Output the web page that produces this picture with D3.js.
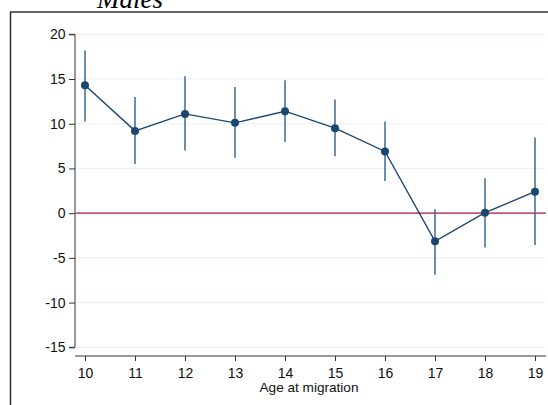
<!DOCTYPE html>
<html>
<head>
<meta charset="utf-8">
<script src="https://cdn.jsdelivr.net/npm/d3@7"></script>
<style>
  html, body { margin: 0; padding: 0; background: #fff; }
  svg { display: block; }
</style>
</head>
<body>
<div id="chart"></div>
<script>
// Estimated effect by age at migration, with 95% confidence intervals
const ages     = [10, 11, 12, 13, 14, 15, 16, 17, 18, 19];
const estimate = [14.3, 9.2, 11.1, 10.1, 11.4, 9.5, 6.9, -3.15, 0.05, 2.4];
const ciLow    = [10.25, 5.5, 7.0, 6.2, 7.95, 6.35, 3.6, -6.9, -3.85, -3.55];
const ciHigh   = [18.2, 13.0, 15.3, 14.1, 14.85, 12.7, 10.25, 0.45, 3.9, 8.45];
const yTicks   = [20, 15, 10, 5, 0, -5, -10, -15];
const xTicks   = [10, 11, 12, 13, 14, 15, 16, 17, 18, 19];

const W = 548, H = 405;
const svg = d3.select("#chart").append("svg")
  .attr("width", W).attr("height", H);

const x = d3.scaleLinear().domain([10, 19]).range([85, 535]);
const y = d3.scaleLinear().domain([-15, 20]).range([347.3, 34.3]);

const navy = "#1a476f";
const spike = "#3e6a90";
const font = "Liberation Sans, Arial, sans-serif";

// panel frame
svg.append("rect")
  .attr("x", 10.5).attr("y", 12)
  .attr("width", W + 10).attr("height", H + 10)
  .attr("fill", "none").attr("stroke", "#333").attr("stroke-width", 1.5);

// panel title
svg.append("text")
  .attr("x", 130).attr("y", 8)
  .attr("text-anchor", "middle")
  .attr("font-family", "Liberation Serif, Times New Roman, serif")
  .attr("font-style", "italic")
  .attr("font-size", 27)
  .attr("fill", "#000")
  .text("Males");

// horizontal gridlines
svg.append("g").selectAll("line")
  .data(yTicks)
  .join("line")
  .attr("x1", 76).attr("x2", 545)
  .attr("y1", d => y(d)).attr("y2", d => y(d))
  .attr("stroke", "#eaf2f3").attr("stroke-width", 1.2);

// zero reference line
svg.append("line")
  .attr("x1", 76).attr("x2", 546)
  .attr("y1", y(0)).attr("y2", y(0))
  .attr("stroke", "#b8143f").attr("stroke-width", 1.3);

// y axis
const yAxis = d3.axisLeft(y).tickValues(yTicks).tickSize(6).tickPadding(3.5)
  .tickFormat(d => String(d));
const gy = svg.append("g").attr("transform", "translate(75,0)").call(yAxis);
gy.select(".domain").attr("d", `M-6,${y(20)}H0V${y(-15)}H-6`).attr("stroke", "#333");
gy.selectAll(".tick line").attr("stroke", "#333");
gy.selectAll(".tick text")
  .attr("font-family", font)
  .attr("font-size", 14).attr("fill", "#111");

// x axis
const xAxis = d3.axisBottom(x).tickValues(xTicks).tickSize(5).tickPadding(7)
  .tickFormat(d => String(d));
const gx = svg.append("g").attr("transform", "translate(0,356)").call(xAxis);
gx.select(".domain").attr("d", "M75,0H546").attr("stroke", "#333");
gx.selectAll(".tick line").attr("stroke", "#333");
gx.selectAll(".tick text")
  .attr("font-family", font)
  .attr("font-size", 14).attr("fill", "#111");

svg.append("text")
  .attr("x", 309).attr("y", 391.5)
  .attr("text-anchor", "middle")
  .attr("font-family", font)
  .attr("font-size", 13.6).attr("fill", "#111")
  .text("Age at migration");

const rows = ages.map((a, i) => ({ a, est: estimate[i], lo: ciLow[i], hi: ciHigh[i] }));

// confidence interval spikes
svg.append("g").selectAll("line")
  .data(rows)
  .join("line")
  .attr("x1", d => x(d.a)).attr("x2", d => x(d.a))
  .attr("y1", d => y(d.lo)).attr("y2", d => y(d.hi))
  .attr("stroke", spike).attr("stroke-width", 1.5);

// connecting line
svg.append("path")
  .datum(rows)
  .attr("d", d3.line().x(d => x(d.a)).y(d => y(d.est)))
  .attr("fill", "none").attr("stroke", navy).attr("stroke-width", 1.4);

// point markers
svg.append("g").selectAll("circle")
  .data(rows)
  .join("circle")
  .attr("cx", d => x(d.a)).attr("cy", d => y(d.est))
  .attr("r", 4)
  .attr("fill", navy);
</script>
</body>
</html>
